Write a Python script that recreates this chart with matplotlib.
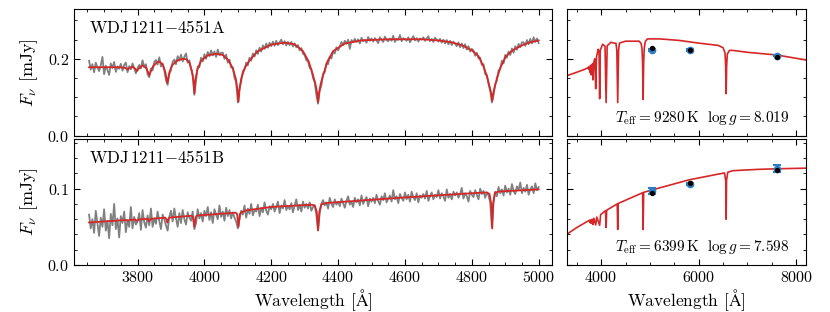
import numpy as np
import matplotlib
matplotlib.use("Agg")
import matplotlib.pyplot as plt
from matplotlib.ticker import MultipleLocator

plt.rcParams['font.family'] = ['cmr10', 'DejaVu Serif']
plt.rcParams['mathtext.fontset'] = 'cm'
plt.rcParams['axes.formatter.use_mathtext'] = True
plt.rcParams['font.size'] = 11

# observed spectra, 5 A sampling from 3655 to 5000
spec_wave = np.arange(3655, 5001, 5)
spec_a = [0.195, 0.172, 0.186, 0.165, 0.190, 0.178, 0.168, 0.183, 0.205, 0.160,
          0.182, 0.171, 0.158, 0.188, 0.176, 0.192, 0.166, 0.180, 0.174, 0.187,
          0.169, 0.184, 0.190, 0.165, 0.181, 0.173, 0.188, 0.176, 0.162, 0.176,
          0.184, 0.175, 0.196, 0.178, 0.186, 0.160, 0.152, 0.175, 0.170, 0.192,
          0.197, 0.185, 0.204, 0.180, 0.188, 0.170, 0.144, 0.132, 0.160, 0.171,
          0.192, 0.198, 0.186, 0.207, 0.195, 0.211, 0.193, 0.205, 0.214, 0.190,
          0.196, 0.174, 0.158, 0.106, 0.144, 0.180, 0.178, 0.203, 0.193, 0.212,
          0.200, 0.218, 0.207, 0.222, 0.209, 0.219, 0.205, 0.224, 0.210, 0.216,
          0.216, 0.200, 0.211, 0.190, 0.198, 0.177, 0.178, 0.150, 0.140, 0.086,
          0.124, 0.141, 0.168, 0.171, 0.190, 0.183, 0.203, 0.195, 0.214, 0.206,
          0.222, 0.213, 0.229, 0.219, 0.235, 0.226, 0.240, 0.229, 0.242, 0.233,
          0.245, 0.234, 0.247, 0.236, 0.243, 0.250, 0.238, 0.246, 0.235, 0.244,
          0.236, 0.244, 0.232, 0.240, 0.230, 0.236, 0.222, 0.228, 0.213, 0.210,
          0.196, 0.194, 0.176, 0.173, 0.150, 0.139, 0.106, 0.083, 0.116, 0.131,
          0.160, 0.165, 0.188, 0.186, 0.205, 0.201, 0.219, 0.214, 0.230, 0.222,
          0.232, 0.244, 0.236, 0.247, 0.239, 0.250, 0.226, 0.249, 0.243, 0.252,
          0.244, 0.251, 0.240, 0.255, 0.246, 0.250, 0.242, 0.257, 0.247, 0.253,
          0.245, 0.254, 0.248, 0.241, 0.256, 0.250, 0.244, 0.258, 0.249, 0.246,
          0.253, 0.247, 0.260, 0.244, 0.252, 0.249, 0.262, 0.246, 0.254, 0.251,
          0.247, 0.256, 0.243, 0.252, 0.259, 0.248, 0.254, 0.245, 0.253, 0.250,
          0.256, 0.247, 0.253, 0.259, 0.246, 0.252, 0.244, 0.255, 0.250, 0.245,
          0.252, 0.242, 0.250, 0.240, 0.249, 0.238, 0.247, 0.236, 0.245, 0.239,
          0.233, 0.243, 0.230, 0.240, 0.228, 0.238, 0.224, 0.233, 0.219, 0.226,
          0.222, 0.208, 0.216, 0.201, 0.203, 0.184, 0.186, 0.160, 0.158, 0.134,
          0.117, 0.086, 0.105, 0.134, 0.143, 0.170, 0.174, 0.195, 0.188, 0.210,
          0.203, 0.219, 0.210, 0.227, 0.216, 0.233, 0.224, 0.239, 0.230, 0.243,
          0.243, 0.234, 0.249, 0.238, 0.252, 0.240, 0.256, 0.244, 0.253, 0.241]
spec_b = [0.066, 0.048, 0.060, 0.042, 0.071, 0.055, 0.038, 0.062, 0.050, 0.073,
          0.045, 0.058, 0.035, 0.067, 0.052, 0.080, 0.047, 0.061, 0.036, 0.064,
          0.055, 0.070, 0.043, 0.059, 0.050, 0.076, 0.048, 0.063, 0.053, 0.057,
          0.068, 0.046, 0.072, 0.056, 0.049, 0.065, 0.052, 0.074, 0.050, 0.061,
          0.054, 0.070, 0.058, 0.047, 0.066, 0.060, 0.052, 0.045, 0.063, 0.071,
          0.057, 0.074, 0.061, 0.050, 0.068, 0.055, 0.072, 0.060, 0.053, 0.069,
          0.062, 0.058, 0.070, 0.047, 0.055, 0.073, 0.061, 0.068, 0.057, 0.071,
          0.064, 0.076, 0.059, 0.069, 0.055, 0.073, 0.066, 0.060, 0.078, 0.063,
          0.070, 0.058, 0.075, 0.064, 0.072, 0.061, 0.069, 0.062, 0.057, 0.048,
          0.060, 0.071, 0.066, 0.078, 0.062, 0.074, 0.067, 0.080, 0.065, 0.072,
          0.070, 0.079, 0.064, 0.075, 0.069, 0.082, 0.071, 0.066, 0.077, 0.073,
          0.080, 0.070, 0.076, 0.083, 0.068, 0.078, 0.074, 0.085, 0.072, 0.077,
          0.073, 0.081, 0.069, 0.078, 0.086, 0.072, 0.079, 0.070, 0.083, 0.075,
          0.080, 0.074, 0.082, 0.071, 0.076, 0.078, 0.066, 0.045, 0.068, 0.080,
          0.085, 0.078, 0.082, 0.074, 0.088, 0.080, 0.076, 0.086, 0.079, 0.083,
          0.077, 0.087, 0.081, 0.075, 0.084, 0.090, 0.079, 0.083, 0.076, 0.088,
          0.082, 0.086, 0.078, 0.091, 0.080, 0.085, 0.089, 0.077, 0.087, 0.083,
          0.088, 0.081, 0.092, 0.084, 0.079, 0.090, 0.085, 0.094, 0.082, 0.087,
          0.091, 0.083, 0.098, 0.086, 0.090, 0.081, 0.093, 0.088, 0.084, 0.095,
          0.086, 0.092, 0.083, 0.096, 0.089, 0.085, 0.094, 0.082, 0.091, 0.088,
          0.093, 0.087, 0.097, 0.084, 0.090, 0.095, 0.086, 0.092, 0.089, 0.098,
          0.087, 0.094, 0.090, 0.084, 0.099, 0.088, 0.093, 0.086, 0.096, 0.091,
          0.095, 0.088, 0.093, 0.101, 0.087, 0.094, 0.090, 0.083, 0.097, 0.092,
          0.089, 0.098, 0.092, 0.086, 0.100, 0.093, 0.097, 0.088, 0.095, 0.091,
          0.082, 0.050, 0.083, 0.096, 0.090, 0.102, 0.094, 0.099, 0.091, 0.104,
          0.095, 0.100, 0.092, 0.106, 0.097, 0.093, 0.103, 0.098, 0.108, 0.094,
          0.101, 0.096, 0.105, 0.092, 0.099, 0.103, 0.094, 0.107, 0.098, 0.102]

# best-fit model spectra
mod_a_wave = [3655, 3700, 3745, 3760, 3766, 3771, 3776, 3785, 3792, 3798, 3804, 3815,
              3826, 3831, 3835, 3839, 3846, 3858, 3866, 3876, 3883, 3889, 3895, 3903,
              3918, 3935, 3945, 3955, 3962, 3967, 3970, 3973, 3979, 3990, 4010, 4035,
              4055, 4072, 4085, 4094, 4099, 4102, 4105, 4110, 4120, 4135, 4160, 4200,
              4240, 4270, 4295, 4312, 4324, 4332, 4337, 4340, 4343, 4348, 4356, 4368,
              4385, 4420, 4470, 4550, 4650, 4700, 4740, 4775, 4800, 4820, 4835, 4846,
              4853, 4858, 4861, 4864, 4869, 4876, 4887, 4902, 4922, 4947, 4970, 5000]
mod_a_flux = [0.178, 0.178, 0.178, 0.177, 0.175, 0.172, 0.176, 0.179, 0.175, 0.168, 0.175, 0.183,
              0.176, 0.166, 0.157, 0.166, 0.180, 0.191, 0.193, 0.184, 0.166, 0.137, 0.164, 0.183,
              0.195, 0.200, 0.199, 0.190, 0.170, 0.145, 0.110, 0.145, 0.172, 0.195, 0.209, 0.213,
              0.210, 0.196, 0.175, 0.148, 0.118, 0.088, 0.118, 0.148, 0.175, 0.196, 0.220, 0.237,
              0.242, 0.238, 0.220, 0.193, 0.160, 0.135, 0.112, 0.087, 0.112, 0.135, 0.160, 0.193,
              0.220, 0.240, 0.248, 0.251, 0.251, 0.248, 0.243, 0.234, 0.222, 0.207, 0.180, 0.152,
              0.128, 0.110, 0.090, 0.110, 0.128, 0.152, 0.180, 0.207, 0.222, 0.234, 0.242, 0.248]
mod_b_wave = [3655, 3700, 3750, 3766, 3771, 3776, 3793, 3798, 3803, 3830, 3835, 3840,
              3883, 3886, 3889, 3892, 3895, 3962, 3966, 3970, 3974, 3978, 4094, 4098,
              4102, 4106, 4110, 4127, 4200, 4320, 4330, 4336, 4340, 4344, 4350, 4365,
              4600, 4800, 4845, 4853, 4858, 4861, 4864, 4869, 4880, 5000]
mod_b_flux = [0.0557, 0.0570, 0.0585, 0.0589, 0.0577, 0.0590, 0.0595, 0.0578, 0.0596, 0.0604, 0.0572, 0.0605,
              0.0620, 0.0600, 0.0555, 0.0600, 0.0621, 0.0645, 0.0625, 0.0500, 0.0625, 0.0648, 0.0685, 0.0665,
              0.0500, 0.0665, 0.0690, 0.0717, 0.0760, 0.0790, 0.0780, 0.0700, 0.0456, 0.0700, 0.0795, 0.0812,
              0.0885, 0.0940, 0.0950, 0.0930, 0.0800, 0.0478, 0.0800, 0.0945, 0.0962, 0.0990]

# model SEDs
sed_a_wave = [3300, 3500, 3650, 3720, 3740, 3750, 3756, 3766, 3771, 3777, 3790, 3798,
              3806, 3825, 3835, 3845, 3870, 3889, 3905, 3940, 3958, 3970, 3982, 4030,
              4080, 4102, 4124, 4200, 4305, 4322, 4340, 4358, 4375, 4500, 4780, 4820,
              4838, 4850, 4861, 4872, 4884, 4905, 4950, 5200, 5600, 6000, 6400, 6500,
              6540, 6553, 6563, 6573, 6586, 6630, 6700, 7000, 7600, 8200]
sed_a_flux = [0.156, 0.165, 0.172, 0.176, 0.178, 0.172, 0.179, 0.180, 0.165, 0.181, 0.183, 0.158,
              0.184, 0.187, 0.145, 0.189, 0.200, 0.122, 0.205, 0.225, 0.220, 0.096, 0.222, 0.238,
              0.233, 0.086, 0.234, 0.243, 0.240, 0.222, 0.086, 0.222, 0.241, 0.246, 0.246, 0.240,
              0.226, 0.190, 0.094, 0.190, 0.228, 0.245, 0.252, 0.252, 0.248, 0.241, 0.235, 0.229,
              0.215, 0.180, 0.109, 0.180, 0.212, 0.222, 0.222, 0.217, 0.210, 0.197]
sed_b_wave = [3300, 3500, 3700, 3760, 3771, 3780, 3798, 3815, 3835, 3850, 3889, 3910,
              3970, 3990, 4090, 4102, 4114, 4330, 4340, 4350, 4850, 4861, 4872, 5200,
              5800, 6400, 6530, 6555, 6563, 6571, 6596, 6700, 7200, 7600, 8200]
sed_b_flux = [0.0404, 0.0490, 0.0565, 0.0585, 0.0555, 0.0590, 0.0545, 0.0600, 0.0530, 0.0612, 0.0525, 0.0628,
              0.0520, 0.0660, 0.0712, 0.0490, 0.0718, 0.0800, 0.0465, 0.0806, 0.0946, 0.0465, 0.0952, 0.1010,
              0.1115, 0.1190, 0.1205, 0.1100, 0.0600, 0.1110, 0.1215, 0.1235, 0.1252, 0.1260, 0.1268]

# photometry
phot_wave = [5040, 5825, 7610]
phot_a = [0.2234, 0.2230, 0.2086]
phot_a_err = [0.0020, 0.0015, 0.0025]
synth_a = [0.2276, 0.2232, 0.2042]
phot_b = [0.0969, 0.1065, 0.1262]
phot_b_err = [0.0040, 0.0015, 0.0050]
synth_b = [0.0948, 0.1070, 0.1240]

names = [r'WDJ$\,$1211$-$4551A', r'WDJ$\,$1211$-$4551B']
fit_text = [r'$T_{\rm eff}=9280\,{\rm K}\ \ \log g=8.019$',
            r'$T_{\rm eff}=6399\,{\rm K}\ \ \log g=7.598$']

red = '#d62728'
blue = '#2a7fc4'

fig = plt.figure(figsize=(8.3, 3.12), dpi=100)
ax_a = fig.add_axes([0.0892, 0.5657, 0.5759, 0.4055])
ax_as = fig.add_axes([0.6831, 0.5657, 0.2880, 0.4055])
ax_b = fig.add_axes([0.0892, 0.1506, 0.5759, 0.4039])
ax_bs = fig.add_axes([0.6831, 0.1506, 0.2880, 0.4039])

ax_a.plot(spec_wave, spec_a, color='grey', lw=1.3)
ax_a.plot(mod_a_wave, mod_a_flux, color=red, lw=1.3)
ax_b.plot(spec_wave, spec_b, color='grey', lw=1.3)
ax_b.plot(mod_b_wave, mod_b_flux, color=red, lw=1.3)

ax_as.plot(sed_a_wave, sed_a_flux, color=red, lw=1.2)
ax_as.errorbar(phot_wave, phot_a, yerr=phot_a_err, fmt='o', color=blue, ms=4.5, capsize=3, elinewidth=1.5, capthick=1.5)
ax_as.scatter(phot_wave, synth_a, color='k', s=8, zorder=5)
ax_bs.plot(sed_b_wave, sed_b_flux, color=red, lw=1.2)
ax_bs.errorbar(phot_wave, phot_b, yerr=phot_b_err, fmt='o', color=blue, ms=4.5, capsize=3, elinewidth=1.5, capthick=1.5)
ax_bs.scatter(phot_wave, synth_b, color='k', s=8, zorder=5)

for ax in [ax_a, ax_b]:
    ax.set_xlim(3610, 5040)
    ax.xaxis.set_major_locator(MultipleLocator(200))
    ax.xaxis.set_minor_locator(MultipleLocator(50))
    ax.set_ylabel(r'$F_\nu$ [mJy]', fontsize=13, labelpad=5)
for ax in [ax_as, ax_bs]:
    ax.set_xlim(3300, 8200)
    ax.xaxis.set_major_locator(MultipleLocator(2000))
    ax.xaxis.set_minor_locator(MultipleLocator(500))
    ax.tick_params(labelleft=False)
for ax in [ax_a, ax_as]:
    ax.set_ylim(0, 0.33)
    ax.yaxis.set_major_locator(MultipleLocator(0.2))
    ax.yaxis.set_minor_locator(MultipleLocator(0.05))
    ax.tick_params(labelbottom=False)
for ax in [ax_b, ax_bs]:
    ax.set_ylim(0, 0.165)
    ax.yaxis.set_major_locator(MultipleLocator(0.1))
    ax.yaxis.set_minor_locator(MultipleLocator(0.02))
    ax.set_xlabel(r'Wavelength [$\mathrm{\AA}$]', fontsize=12.5, labelpad=2)
for ax in [ax_a, ax_as, ax_b, ax_bs]:
    ax.tick_params(which='both', direction='in', top=True, right=True, labelsize=11.5)
    ax.tick_params(which='major', length=4.5)
    ax.tick_params(which='minor', length=2.3)

ax_a.text(0.031, 0.85, names[0], transform=ax_a.transAxes, va='center', fontsize=12.2)
ax_b.text(0.031, 0.85, names[1], transform=ax_b.transAxes, va='center', fontsize=12.2)
ax_as.text(0.93, 0.14, fit_text[0], transform=ax_as.transAxes, ha='right', va='center', fontsize=11)
ax_bs.text(0.93, 0.14, fit_text[1], transform=ax_bs.transAxes, ha='right', va='center', fontsize=11)

fig.savefig('out.png', dpi=100)
